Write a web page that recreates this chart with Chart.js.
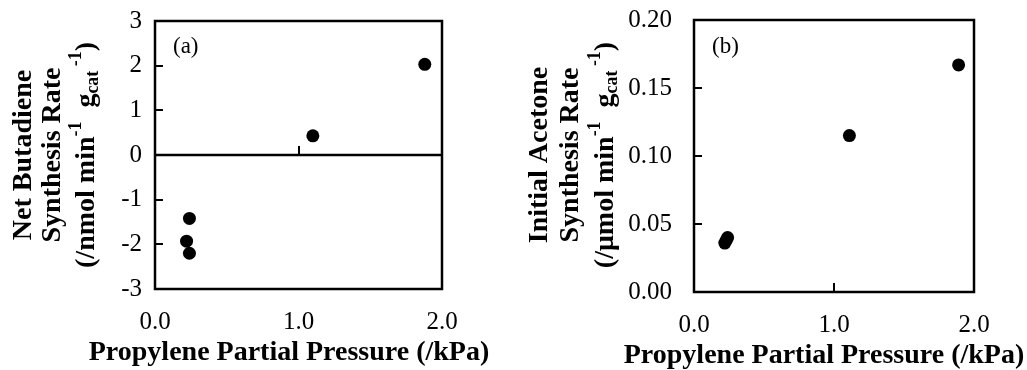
<!DOCTYPE html>
<html>
<head>
<meta charset="utf-8">
<script src="https://cdn.jsdelivr.net/npm/chart.js@4.4.1/dist/chart.umd.min.js"></script>
<style>
  body { margin: 0; background: #fff; }
  .panel { position: absolute; top: 0; height: 370px; }
</style>
</head>
<body>
<div class="panel" style="left:0;width:500px"><canvas id="chartA" width="500" height="370"></canvas></div>
<div class="panel" style="left:500px;width:527px"><canvas id="chartB" width="527" height="370"></canvas></div>
<script>
// Données
const pressureA = [0.24, 0.22, 0.24, 1.10, 1.88];        // kPa
const butadieneRate = [-1.42, -1.93, -2.20, 0.43, 2.03]; // nmol min-1 gcat-1
const pressureB = [0.22, 0.24, 0.23, 1.11, 1.89];        // kPa
const acetoneRate = [0.036, 0.040, 0.038, 0.115, 0.167]; // µmol min-1 gcat-1

const xTickValues = [0, 1, 2];
const yTickValuesA = [-3, -2, -1, 0, 1, 2, 3];
const yTickValuesB = [0, 0.05, 0.10, 0.15, 0.20];

const SERIF = "'Liberation Serif', 'Times New Roman', serif";

// Titre de l'axe Y (3 lignes, la dernière avec exposants / indices)
function drawRuns(ctx, runs, size) {
    let total = 0;
    runs.forEach(r => {
        ctx.font = 'bold ' + (r.s ? size * 0.64 : size) + 'px ' + SERIF;
        r.w = ctx.measureText(r.t).width;
        total += r.w;
    });
    let x = -total / 2;
    runs.forEach(r => {
        ctx.font = 'bold ' + (r.s ? size * 0.64 : size) + 'px ' + SERIF;
        const dy = r.s === 1 ? -size * 0.38 : (r.s === -1 ? size * 0.22 : 0);
        ctx.fillText(r.t, x, dy);
        x += r.w;
    });
}

// Plugin : cadre, graduations, ligne zéro, titres
function framePlugin(opts) {
    return {
        id: 'frame',
        afterDraw(chart) {
            const ctx = chart.ctx;
            const a = chart.chartArea;
            const xs = chart.scales.x, ys = chart.scales.y;
            ctx.save();
            ctx.strokeStyle = '#000';
            ctx.lineWidth = 2.5;
            ctx.strokeRect(a.left, a.top, a.right - a.left, a.bottom - a.top);

            // graduations Y vers l'intérieur
            ctx.lineWidth = 2;
            opts.yTicks.forEach(v => {
                const py = Math.round(ys.getPixelForValue(v));
                ctx.beginPath();
                ctx.moveTo(a.left, py);
                ctx.lineTo(a.left + 8, py);
                ctx.stroke();
            });

            // ligne zéro + graduation X
            const base = opts.zeroLine ? ys.getPixelForValue(0) : a.bottom;
            if (opts.zeroLine) {
                ctx.lineWidth = 2.5;
                ctx.beginPath();
                ctx.moveTo(a.left, base);
                ctx.lineTo(a.right, base);
                ctx.stroke();
            }
            ctx.lineWidth = 2;
            xTickValues.slice(1, -1).forEach(v => {
                const px = Math.round(xs.getPixelForValue(v));
                ctx.beginPath();
                ctx.moveTo(px, base);
                ctx.lineTo(px, base - 9);
                ctx.stroke();
            });

            ctx.fillStyle = '#000';
            // étiquette (a)/(b)
            ctx.font = '23px ' + SERIF;
            ctx.textAlign = 'left';
            ctx.textBaseline = 'middle';
            ctx.fillText(opts.tag, a.left + 18, 47);

            // titre X
            ctx.font = 'bold 28px ' + SERIF;
            ctx.textAlign = 'center';
            ctx.textBaseline = 'alphabetic';
            ctx.fillText('Propylene Partial Pressure (/kPa)', opts.xTitleX, opts.xTitleY);

            // titre Y
            ctx.textAlign = 'left';
            opts.yTitle.forEach((line, i) => {
                ctx.save();
                ctx.translate(opts.yTitleX[i], opts.yTitleCY);
                ctx.rotate(-Math.PI / 2);
                ctx.textBaseline = 'middle';
                const runs = typeof line === 'string' ? [{t: line, s: 0}] : line;
                drawRuns(ctx, runs, 28);
                ctx.restore();
            });
            ctx.restore();
        }
    };
}

function noOverflow(s) {
    s.paddingTop = 0; s.paddingBottom = 0;
    s.paddingLeft = 0; s.paddingRight = 0;
}

function makeChart(id, xs, ys, yMin, yMax, yStep, yFmt, pad, yWidth, xHeight, yPad, plugin) {
    new Chart(document.getElementById(id), {
        type: 'scatter',
        data: {
            datasets: [{
                data: xs.map((x, i) => ({x: x, y: ys[i]})),
                backgroundColor: '#000',
                borderWidth: 0,
                pointRadius: 6.5,
                pointHoverRadius: 6.5
            }]
        },
        options: {
            responsive: false,
            animation: false,
            layout: { padding: pad },
            plugins: { legend: { display: false }, tooltip: { enabled: false } },
            scales: {
                x: {
                    type: 'linear',
                    min: 0, max: 2,
                    afterFit(s) { s.height = xHeight; noOverflow(s); },
                    grid: { display: false, drawTicks: false },
                    border: { display: false },
                    ticks: {
                        stepSize: 1,
                        padding: 18,
                        color: '#000',
                        font: { family: SERIF, size: 25 },
                        callback: v => v.toFixed(1)
                    }
                },
                y: {
                    min: yMin, max: yMax,
                    afterFit(s) { s.width = yWidth; noOverflow(s); },
                    grid: { display: false, drawTicks: false },
                    border: { display: false },
                    ticks: {
                        stepSize: yStep,
                        padding: yPad,
                        color: '#000',
                        font: { family: SERIF, size: 25 },
                        callback: yFmt
                    }
                }
            }
        },
        plugins: [plugin]
    });
}

makeChart('chartA', pressureA, butadieneRate, -3, 3, 1, v => String(v),
    { left: 0, right: 58, top: 21, bottom: 0 }, 155, 81, 13,
    framePlugin({
        tag: '(a)', zeroLine: true, yTicks: yTickValuesA,
        xTitleX: 289, xTitleY: 360,
        yTitleX: [24, 53, 87], yTitleCY: 155,
        yTitle: ['Net Butadiene', 'Synthesis Rate',
            [{t: '(/nmol min', s: 0}, {t: '-1', s: 1}, {t: '  g', s: 0}, {t: 'cat', s: -1}, {t: ' -1', s: 1}, {t: ')', s: 0}]]
    }));

makeChart('chartB', pressureB, acetoneRate, 0, 0.2, 0.05, v => v.toFixed(2),
    { left: 0, right: 53, top: 20, bottom: 0 }, 194, 78, 22,
    framePlugin({
        tag: '(b)', zeroLine: false, yTicks: yTickValuesB,
        xTitleX: 324, xTitleY: 363,
        yTitleX: [40, 71, 106], yTitleCY: 155,
        yTitle: ['Initial Acetone', 'Synthesis Rate',
            [{t: '(/μmol min', s: 0}, {t: '-1', s: 1}, {t: '  g', s: 0}, {t: 'cat', s: -1}, {t: ' -1', s: 1}, {t: ')', s: 0}]]
    }));
</script>
</body>
</html>
